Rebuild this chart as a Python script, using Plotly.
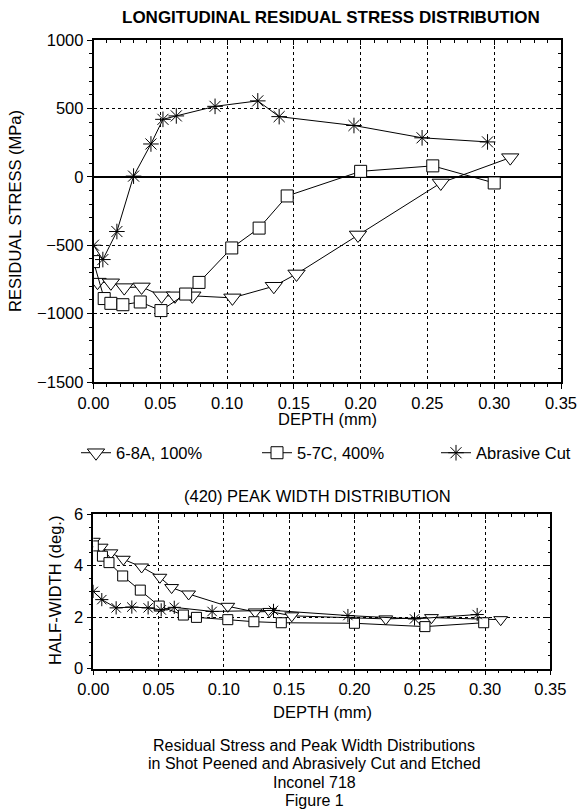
import plotly.graph_objects as go

# ---------------- data: top panel (residual stress, MPa) ----------------
tri_depth_rs = [0.003, 0.013, 0.023, 0.036, 0.051, 0.061, 0.074, 0.104, 0.135, 0.152, 0.198, 0.260, 0.312]
tri_stress = [-770, -775, -810, -805, -870, -870, -870, -885, -800, -710, -425, -45, 140]

sq_depth_rs = [0.000, 0.008, 0.013, 0.022, 0.035, 0.0505, 0.069, 0.079, 0.1035, 0.124, 0.145, 0.200, 0.254, 0.300]
sq_stress = [-620, -890, -925, -935, -915, -978, -857, -772, -520, -375, -140, 40, 80, -45]

ast_depth_rs = [0.000, 0.007, 0.0175, 0.030, 0.043, 0.052, 0.062, 0.091, 0.123, 0.139, 0.195, 0.246, 0.295]
ast_stress = [-500, -605, -400, 5, 240, 420, 445, 515, 555, 440, 375, 285, 255]

# ---------------- data: bottom panel (half-width, deg.) ----------------
tri_depth_pw = [0.000, 0.006, 0.0135, 0.023, 0.037, 0.051, 0.060, 0.073, 0.103, 0.124, 0.135, 0.152, 0.224, 0.259, 0.312]
tri_width = [4.95, 4.72, 4.50, 4.25, 3.95, 3.55, 3.15, 2.90, 2.42, 2.20, 2.22, 2.05, 1.93, 1.98, 1.90]

sq_depth_pw = [0.000, 0.007, 0.012, 0.0225, 0.036, 0.0505, 0.069, 0.079, 0.103, 0.123, 0.144, 0.200, 0.254, 0.299]
sq_width = [4.77, 4.37, 4.12, 3.60, 3.05, 2.43, 2.08, 1.99, 1.90, 1.82, 1.78, 1.76, 1.63, 1.78]

ast_depth_pw = [0.000, 0.0065, 0.0175, 0.0295, 0.042, 0.052, 0.062, 0.091, 0.138, 0.195, 0.246, 0.294]
ast_width = [3.00, 2.68, 2.36, 2.39, 2.36, 2.28, 2.38, 2.22, 2.26, 2.06, 1.93, 2.10]

series_names = ["6-8A, 100%", "5-7C, 400%", "Abrasive Cut"]

x_ticks = [0.00, 0.05, 0.10, 0.15, 0.20, 0.25, 0.30, 0.35]
rs_ticks = [-1500, -1000, -500, 0, 500, 1000]
pw_ticks = [0, 2, 4, 6]

title_top = "LONGITUDINAL RESIDUAL STRESS DISTRIBUTION"
title_bottom = "(420) PEAK WIDTH DISTRIBUTION"
caption_lines = ["Residual Stress and Peak Width Distributions",
                 "in Shot Peened and Abrasively Cut and Etched",
                 "Inconel 718",
                 "Figure 1"]

# ---------------- figure ----------------
W, H = 579, 809
FONT = "Arial, 'Liberation Sans', sans-serif"
FS = 16.5


def px(x):
    return x / W


def py(y):
    return 1 - y / H


fig = go.Figure()

sym = {
    0: dict(symbol="triangle-down", color="white", line=dict(color="black", width=1)),
    1: dict(symbol="square", color="white", line=dict(color="black", width=1)),
    2: dict(symbol="asterisk-open", color="black", line=dict(color="black", width=1)),
}
top_sizes = [15, 12, 13]
bot_sizes = [12, 10, 11]
legend_ids = ["legend", "legend2", "legend3"]

top_data = [(tri_depth_rs, tri_stress), (sq_depth_rs, sq_stress), (ast_depth_rs, ast_stress)]
bot_data = [(tri_depth_pw, tri_width), (sq_depth_pw, sq_width), (ast_depth_pw, ast_width)]

for i, (xs, ys) in enumerate(top_data):
    m = dict(sym[i])
    m["size"] = top_sizes[i]
    fig.add_trace(go.Scatter(x=xs, y=ys, mode="lines+markers", name=series_names[i],
                             line=dict(color="black", width=1), marker=m,
                             xaxis="x", yaxis="y", showlegend=True, legend=legend_ids[i]))
for i, (xs, ys) in enumerate(bot_data):
    m = dict(sym[i])
    m["size"] = bot_sizes[i]
    fig.add_trace(go.Scatter(x=xs, y=ys, mode="lines+markers", name=series_names[i],
                             line=dict(color="black", width=1), marker=m,
                             xaxis="x2", yaxis="y2", showlegend=False))

# dummy traces for mirrored (inside-tick) axes
for xa, ya in [("x3", "y3"), ("x4", "y4")]:
    fig.add_trace(go.Scatter(x=[None], y=[None], xaxis=xa, yaxis=ya, showlegend=False, hoverinfo="skip"))

top_dom_x = [px(93.5), px(561)]
top_dom_y = [py(382), py(40)]
bot_dom_x = [px(93.3), px(550.3)]
bot_dom_y = [py(668.5), py(514.3)]

tickfont = dict(family=FONT, size=FS, color="black")
common_x = dict(range=[0, 0.35], tickvals=x_ticks, tickformat=".2f", ticks="outside", ticklen=5,
                tickcolor="black", showline=True, linecolor="black", linewidth=1.5,
                showgrid=True, gridcolor="black", griddash="dot", gridwidth=1,
                zeroline=False, tickfont=tickfont, automargin=False,
                minor=dict(dtick=0.01, ticks="outside", ticklen=3, tickcolor="black", showgrid=False))


def mirror_axis(**kw):
    d = dict(showticklabels=False, ticks="inside", ticklen=5, tickcolor="black", showline=True,
             linecolor="black", linewidth=1.5, showgrid=False, zeroline=False, automargin=False)
    d.update(kw)
    return d


legend_common = dict(orientation="h", xanchor="left", yanchor="middle",
                     font=dict(family=FONT, size=FS, color="black"),
                     bgcolor="rgba(0,0,0,0)", borderwidth=0)

fig.update_layout(
    xaxis=dict(domain=top_dom_x, anchor="y", **common_x),
    yaxis=dict(domain=top_dom_y, anchor="x", range=[-1500, 1000], tickvals=rs_ticks,
               ticks="outside", ticklen=5, tickcolor="black", showline=True, linecolor="black",
               linewidth=1.5, showgrid=True, gridcolor="black", griddash="dot", gridwidth=1,
               zeroline=True, zerolinecolor="black", zerolinewidth=2, tickfont=tickfont, automargin=False,
               minor=dict(dtick=100, ticks="outside", ticklen=3, tickcolor="black", showgrid=False)),
    xaxis2=dict(domain=bot_dom_x, anchor="y2", **common_x),
    yaxis2=dict(domain=bot_dom_y, anchor="x2", range=[0, 6], tickvals=pw_ticks,
                ticks="outside", ticklen=5, tickcolor="black", showline=True, linecolor="black",
                linewidth=1.5, showgrid=True, gridcolor="black", griddash="dot", gridwidth=1,
                zeroline=False, tickfont=tickfont, automargin=False,
                minor=dict(dtick=0.5, ticks="outside", ticklen=3, tickcolor="black", showgrid=False)),
    xaxis3=mirror_axis(overlaying="x", side="top", anchor="y3", range=[0, 0.35], tickvals=x_ticks,
                       minor=dict(dtick=0.01, ticks="inside", ticklen=3, tickcolor="black")),
    yaxis3=mirror_axis(overlaying="y", side="right", anchor="x3", range=[-1500, 1000], tickvals=rs_ticks,
                       minor=dict(dtick=100, ticks="inside", ticklen=3, tickcolor="black")),
    xaxis4=mirror_axis(overlaying="x2", side="top", anchor="y4", range=[0, 0.35], tickvals=x_ticks,
                       minor=dict(dtick=0.01, ticks="inside", ticklen=3, tickcolor="black")),
    yaxis4=mirror_axis(overlaying="y2", side="right", anchor="x4", range=[0, 6], tickvals=pw_ticks,
                       minor=dict(dtick=0.5, ticks="inside", ticklen=3, tickcolor="black")),
    width=W, height=H,
    margin=dict(l=0, r=0, t=0, b=0, autoexpand=False),
    paper_bgcolor="white", plot_bgcolor="white",
    font=dict(family=FONT, size=FS, color="black"),
    showlegend=True,
    legend=dict(x=px(76), y=py(453), **legend_common),
    legend2=dict(x=px(257), y=py(453), **legend_common),
    legend3=dict(x=px(436), y=py(453), **legend_common),
)

ann = [
    dict(text="<b>" + title_top + "</b>", x=px(331), y=py(17), size=17),
    dict(text="DEPTH (mm)", x=px(327), y=py(419), size=FS),
    dict(text=title_bottom, x=px(317), y=py(496), size=FS),
    dict(text="DEPTH (mm)", x=px(322), y=py(712), size=FS),
]
for k, line in enumerate(caption_lines):
    ann.append(dict(text=line, x=px(314), y=py(745 + 18.5 * k), size=16))

for a in ann:
    fig.add_annotation(text=a["text"], x=a["x"], y=a["y"], xref="paper", yref="paper",
                       xanchor="center", yanchor="middle", showarrow=False,
                       font=dict(family=FONT, size=a["size"], color="black"))

fig.add_annotation(text="RESIDUAL STRESS (MPa)", x=px(15), y=py(211), xref="paper", yref="paper",
                   textangle=-90, showarrow=False, xanchor="center", yanchor="middle",
                   font=dict(family=FONT, size=FS, color="black"))
fig.add_annotation(text="HALF-WIDTH (deg.)", x=px(55), y=py(591), xref="paper", yref="paper",
                   textangle=-90, showarrow=False, xanchor="center", yanchor="middle",
                   font=dict(family=FONT, size=FS, color="black"))

# remove the browser's default 8px body margin so the figure sits at the window origin
fig.write_html("out.html", config={"displayModeBar": False},
               post_script="document.body.style.margin='0';document.body.style.overflow='hidden';")
